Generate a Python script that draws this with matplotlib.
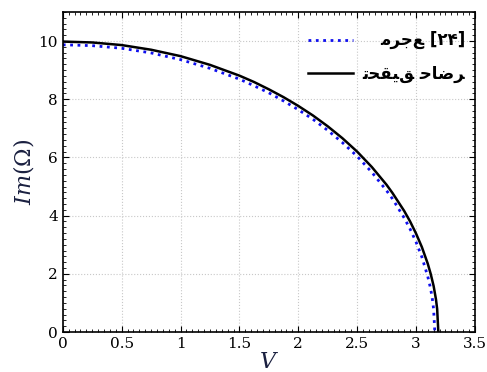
import matplotlib
matplotlib.use('Agg')
from matplotlib import pyplot as plt
from matplotlib.ticker import AutoMinorLocator

# present work (black solid)
v_present = [0, 0.25, 0.5, 0.75, 1.0, 1.25, 1.5, 1.625, 1.75, 1.875, 2.0, 2.125, 2.25,
             2.375, 2.5, 2.625, 2.75, 2.8, 2.9, 2.95, 3.0, 3.05, 3.1, 3.125, 3.15,
             3.17, 3.18, 3.19]
im_present = [9.98, 9.95, 9.86, 9.70, 9.48, 9.18, 8.81, 8.59, 8.34, 8.07, 7.77, 7.44, 7.07,
              6.66, 6.20, 5.67, 5.06, 4.78, 4.16, 3.80, 3.39, 2.92, 2.35, 2.00, 1.58,
              1.12, 0.79, 0.0]

# reference [24] (blue dotted)
v_ref = [0, 0.25, 0.5, 0.75, 1.0, 1.25, 1.5, 1.625, 1.75, 1.875, 2.0, 2.125, 2.25,
         2.375, 2.5, 2.625, 2.75, 2.8, 2.9, 2.95, 3.0, 3.05, 3.1, 3.12, 3.13,
         3.14, 3.15, 3.16]
im_ref = [9.87, 9.84, 9.75, 9.59, 9.36, 9.06, 8.69, 8.46, 8.22, 7.94, 7.64, 7.31, 6.93,
          6.51, 6.04, 5.49, 4.86, 4.58, 3.92, 3.54, 3.10, 2.58, 1.91, 1.57, 1.36,
          1.11, 0.78, 0.0]

# legend labels (Arabic presentation forms, logical order)
label_ref = '\ufee3\ufeae\ufe9f\ufeca [\u06f2\u06f4]'
label_present = '\ufe97\ufea4\ufed8\ufef4\ufed6 \ufea3\ufe8e\ufebf\ufeae'

plt.rcParams['mathtext.fontset'] = 'dejavuserif'

fig = plt.figure(figsize=(4.87, 3.72), dpi=100)
ax = fig.add_axes([0.129, 0.1075, 0.846, 0.8605])

ax.plot(v_ref, im_ref, color='#1010ee', linestyle=':', linewidth=2, label=label_ref)
ax.plot(v_present, im_present, color='black', linewidth=1.8, label=label_present)

ax.set_xlim(0, 3.5)
ax.set_ylim(0, 11)
ax.set_xticks([0, 0.5, 1, 1.5, 2, 2.5, 3, 3.5])
ax.set_xticklabels(['0', '0.5', '1', '1.5', '2', '2.5', '3', '3.5'])
ax.set_yticks([0, 2, 4, 6, 8, 10])
ax.xaxis.set_minor_locator(AutoMinorLocator(10))
ax.yaxis.set_minor_locator(AutoMinorLocator(10))
ax.tick_params(which='both', direction='in', top=True, right=True)
ax.tick_params(which='major', length=4, labelsize=11)
ax.tick_params(which='minor', length=2)
for lab in ax.get_xticklabels() + ax.get_yticklabels():
    lab.set_family('DejaVu Serif')
for s in ax.spines.values():
    s.set_linewidth(1.2)

ax.grid(True, linestyle=':', color='#c8c8c8', linewidth=0.8)

ax.set_xlabel(r'$V$', fontsize=16, labelpad=1, color='#1a2040')
ax.set_ylabel(r'$Im(\Omega)$', fontsize=16, labelpad=2, color='#1a2040')

leg = ax.legend(loc='upper right', bbox_to_anchor=(0.993, 0.96), borderaxespad=0,
                frameon=False, prop={'family': 'DejaVu Sans', 'weight': 'bold', 'size': 12},
                handlelength=2.65, labelspacing=0.9, handletextpad=0.6)

# right-align the labels while keeping the line samples in one column
fig.canvas.draw()
r = fig.canvas.get_renderer()
widths = [t.get_window_extent(r).width for t in leg.get_texts()]
rows = leg._legend_handle_box.get_children()[0].get_children()
for row, w in zip(rows, widths):
    row.sep += (max(widths) - w) * 72 / fig.dpi

fig.savefig('out.png', dpi=100)
